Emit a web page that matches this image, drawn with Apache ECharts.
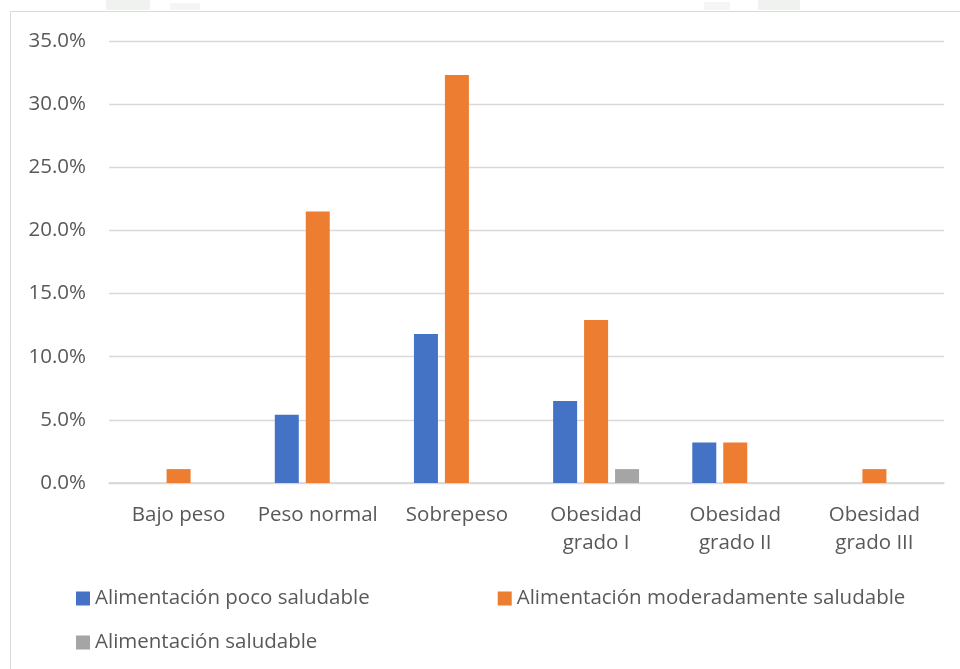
<!DOCTYPE html>
<html>
<head>
<meta charset="utf-8">
<script src="https://cdn.jsdelivr.net/npm/echarts@6/dist/echarts.min.js"></script>
<style>
  html, body { margin: 0; padding: 0; background: #ffffff; }
  #chart { width: 960px; height: 669px; }
</style>
</head>
<body>
<div id="chart"></div>
<script>
// Nutritional status categories (x axis)
const categories = ['Bajo peso', 'Peso normal', 'Sobrepeso', 'Obesidad\ngrado I', 'Obesidad\ngrado II', 'Obesidad\ngrado III'];

// Series names
const seriesNames = ['Alimentación poco saludable', 'Alimentación moderadamente saludable', 'Alimentación saludable'];

// Percentages per category
const pocoSaludable = [0, 5.4, 11.8, 6.5, 3.2, 0];
const moderadamenteSaludable = [1.1, 21.5, 32.3, 12.9, 3.2, 1.1];
const saludable = [0, 0, 0, 1.1, 0, 0];

// Y axis range and step (percent)
const yMin = 0, yMax = 35, yStep = 5;

const colors = ['#4472C4', '#ED7D31', '#A5A5A5'];
const textColor = '#595959';
const fontFamily = '"Open Sans", "Noto Sans", sans-serif';
const fontSize = 20.5;

const chart = echarts.init(document.getElementById('chart'), null, { renderer: 'canvas' });

function barSeries(name, data, color) {
  return {
    name: name,
    type: 'bar',
    data: data,
    barWidth: 24,
    barGap: '29%',
    itemStyle: { color: color },
    emphasis: { disabled: true }
  };
}

const legendText = { color: textColor, fontSize: fontSize, fontFamily: fontFamily };

chart.setOption({
  animation: false,
  backgroundColor: '#ffffff',
  color: colors,
  graphic: [
    { type: 'rect', shape: { x: 10.5, y: 11.5, width: 1000, height: 700 }, style: { fill: 'none', stroke: '#d9d9d9', lineWidth: 1 }, silent: true },
    { type: 'rect', shape: { x: 106, y: 0, width: 44, height: 10 }, style: { fill: '#f0f2f0' }, silent: true },
    { type: 'rect', shape: { x: 170, y: 3, width: 30, height: 7 }, style: { fill: '#f4f5f4' }, silent: true },
    { type: 'rect', shape: { x: 704, y: 2, width: 26, height: 8 }, style: { fill: '#f4f5f4' }, silent: true },
    { type: 'rect', shape: { x: 758, y: 0, width: 42, height: 10 }, style: { fill: '#f0f2f0' }, silent: true }
  ],
  grid: { left: 109, right: 16, top: 41, bottom: 186, containLabel: false },
  legend: [
    {
      data: seriesNames.slice(0, 2),
      left: 76, top: 588, padding: 0,
      itemWidth: 14, itemHeight: 14, itemGap: 128,
      icon: 'rect',
      textStyle: legendText,
      selectedMode: false
    },
    {
      data: seriesNames.slice(2),
      left: 76, top: 632, padding: 0,
      itemWidth: 14, itemHeight: 14,
      icon: 'rect',
      textStyle: legendText,
      selectedMode: false
    }
  ],
  xAxis: {
    type: 'category',
    data: categories,
    axisLine: { show: true, lineStyle: { color: '#d6d6d6', width: 1.5 } },
    axisTick: { show: false },
    axisLabel: { color: textColor, fontSize: fontSize, fontFamily: fontFamily, margin: 18, lineHeight: 28, interval: 0 }
  },
  yAxis: {
    type: 'value',
    min: yMin, max: yMax, interval: yStep,
    axisLine: { show: false },
    axisTick: { show: false },
    splitLine: { lineStyle: { color: '#d9d9d9', width: 1.3 } },
    axisLabel: {
      color: textColor, fontSize: fontSize, fontFamily: fontFamily, margin: 23,
      formatter: v => v.toFixed(1) + '%'
    }
  },
  series: [
    barSeries(seriesNames[0], pocoSaludable, colors[0]),
    barSeries(seriesNames[1], moderadamenteSaludable, colors[1]),
    barSeries(seriesNames[2], saludable, colors[2])
  ]
});
</script>
</body>
</html>
